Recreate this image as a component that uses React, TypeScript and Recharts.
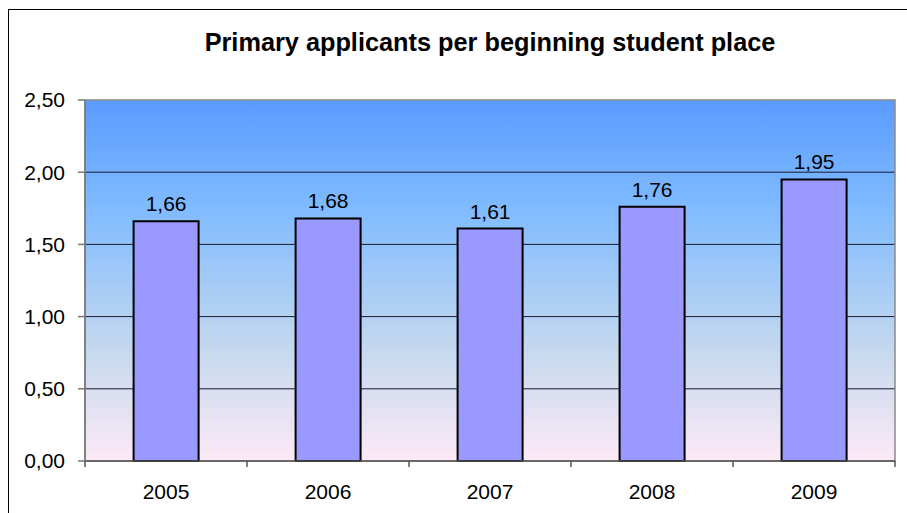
import { Bar, BarChart, CartesianGrid, LabelList, ReferenceArea, XAxis, YAxis } from "recharts";

const years = ["2005", "2006", "2007", "2008", "2009"];
const applicantsPerPlace = [1.66, 1.68, 1.61, 1.76, 1.95];
const yTicks = [0, 0.5, 1, 1.5, 2, 2.5];
const gridValues = [0.5, 1, 1.5, 2];

const rows = years.map((year, i) => ({ year, value: applicantsPerPlace[i] }));

const fmt = (v: number) => v.toFixed(2).replace(".", ",");

const font = "Liberation Sans, Arial, sans-serif";

// category label plus a small tick mark on the category boundary
function YearTick(props: any) {
  const { x, y, payload, index } = props;
  const half = payload?.offset || 81;
  const top = y - 2;
  return (
    <g>
      <line x1={x + half} y1={top} x2={x + half} y2={top + 6} stroke="#555" strokeWidth={1.5} />
      {index === 0 && <line x1={x - half} y1={top} x2={x - half} y2={top + 6} stroke="#555" strokeWidth={1.5} />}
      <text x={x} y={y + 36} textAnchor="middle" fill="#000" fontSize={21} fontFamily={font}>
        {payload.value}
      </text>
    </g>
  );
}

export default function App() {
  return (
    <div style={{ position: "absolute", left: 0, top: 0, width: 907, height: 513, background: "#fff", overflow: "hidden" }}>
      <div
        style={{
          position: "absolute",
          left: 8,
          top: 9,
          width: 920,
          height: 520,
          borderLeft: "1.5px solid #000",
          borderTop: "1.5px solid #000",
        }}
      />
      <div
        style={{
          position: "absolute",
          left: 0,
          top: 27,
          width: 980,
          textAlign: "center",
          fontFamily: font,
          fontWeight: "bold",
          fontSize: 25.3,
          lineHeight: "30px",
          color: "#000",
        }}
      >
        Primary applicants per beginning student place
      </div>
      <div style={{ position: "absolute", left: 0, top: 0 }}>
        <BarChart
          width={907}
          height={513}
          data={rows}
          margin={{ top: 100, right: 12, left: 0, bottom: 0 }}
          barCategoryGap="30%"
        >
          <defs>
            <linearGradient id="plotBg" x1="0" y1="0" x2="0" y2="1">
              <stop offset="0%" stopColor="#5a9bff" />
              <stop offset="30%" stopColor="#80bbff" />
              <stop offset="70%" stopColor="#c6d9ee" />
              <stop offset="100%" stopColor="#fde9f6" />
            </linearGradient>
          </defs>
          <CartesianGrid
            vertical={false}
            horizontalValues={gridValues}
            stroke="#1a1a2e"
            strokeWidth={1}
            fill="url(#plotBg)"
            fillOpacity={1}
          />
          <ReferenceArea y1={0} y2={2.5} fill="none" stroke="#8a8a8a" strokeWidth={1.5} ifOverflow="visible" />
          <XAxis
            dataKey="year"
            height={52}
            stroke="#555"
            strokeWidth={1.5}
            tickLine={false}
            tickSize={0}
            tickMargin={2}
            tick={<YearTick />}
          />
          <YAxis
            width={85}
            domain={[0, 2.5]}
            ticks={yTicks}
            tickFormatter={fmt}
            stroke="#777"
            strokeWidth={1.5}
            tickSize={7}
            tickMargin={13}
            tick={{ fill: "#000", fontSize: 21, fontFamily: font }}
          />
          <Bar dataKey="value" fill="#9999ff" stroke="#000" strokeWidth={2} isAnimationActive={false}>
            <LabelList
              dataKey="value"
              position="top"
              offset={10}
              formatter={(v: any) => fmt(Number(v))}
              style={{ fill: "#000", fontSize: 21, fontFamily: font }}
            />
          </Bar>
        </BarChart>
      </div>
    </div>
  );
}
